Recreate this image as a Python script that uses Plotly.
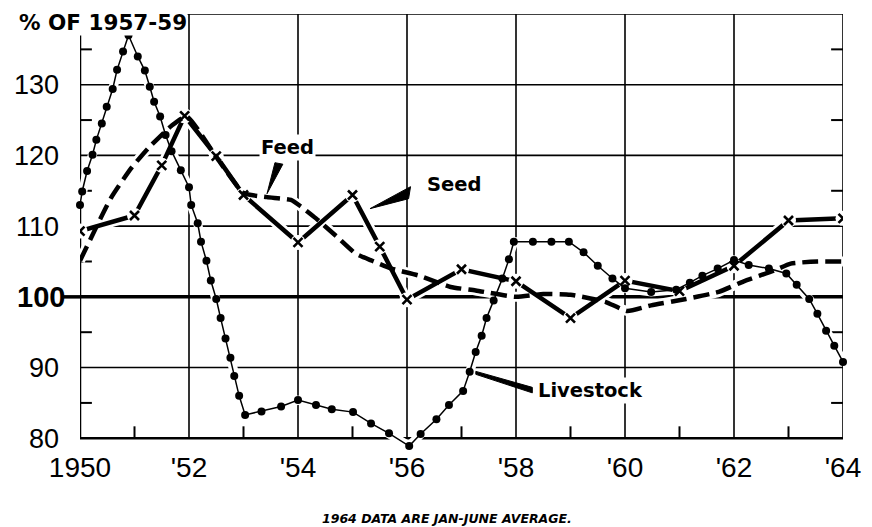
import plotly.graph_objects as go

# ---------------- data ----------------
live_year = [1950.0, 1950.04, 1950.13, 1950.23, 1950.30, 1950.40, 1950.49, 1950.60, 1950.68, 1950.79,
             1950.89, 1951.06, 1951.19, 1951.28, 1951.36, 1951.47, 1951.57, 1951.68, 1951.85, 1952.0,
             1952.04, 1952.16, 1952.22, 1952.32, 1952.40, 1952.50, 1952.58, 1952.67, 1952.76, 1952.83,
             1952.92, 1953.03, 1953.33, 1953.69, 1954.0, 1954.33, 1954.62, 1955.01, 1955.34, 1955.67,
             1956.04, 1956.25, 1956.54, 1956.77, 1957.03, 1957.15, 1957.26, 1957.37, 1957.46, 1957.59,
             1957.75, 1957.87, 1957.96, 1958.31, 1958.65, 1958.97, 1959.24, 1959.50, 1959.77, 1960.0,
             1960.48, 1960.94, 1961.19, 1961.42, 1961.70, 1962.0, 1962.27, 1962.64, 1962.96, 1963.15,
             1963.38, 1963.53, 1963.69, 1963.84, 1964.0]
live_val = [113.0, 114.9, 117.8, 120.1, 122.2, 124.5, 126.9, 129.4, 132.1, 134.7,
            137.0, 134.0, 132.0, 129.7, 127.6, 125.5, 122.9, 120.6, 117.9, 115.5,
            113.0, 110.4, 107.8, 105.1, 102.3, 99.7, 97.0, 94.1, 91.4, 88.8,
            86.0, 83.3, 83.8, 84.5, 85.4, 84.7, 84.1, 83.7, 82.1, 80.7,
            78.9, 80.6, 82.7, 84.7, 86.7, 89.4, 92.2, 94.5, 97.0, 99.5,
            102.6, 105.3, 107.8, 107.8, 107.8, 107.8, 106.3, 104.4, 102.6, 101.2,
            100.7, 101.0, 102.0, 103.0, 104.0, 105.2, 104.5, 104.0, 103.3, 101.7,
            99.7, 97.6, 95.2, 93.1, 90.8]

feed_year = [1950.0, 1950.57, 1950.94, 1951.25, 1951.68, 1951.96, 1952.5, 1953.0, 1953.43, 1953.87,
             1954.05, 1954.33, 1954.70, 1955.06, 1955.36, 1955.72, 1956.22, 1956.80, 1957.26, 1958.0,
             1958.5, 1959.0, 1959.64, 1960.04, 1960.48, 1961.12, 1961.72, 1962.18, 1962.73, 1963.04,
             1963.53, 1964.0]
feed_val = [105.1, 114.0, 118.2, 121.0, 124.2, 125.5, 119.8, 114.7, 114.1, 113.7,
            112.8, 111.1, 108.6, 106.1, 105.1, 104.0, 103.0, 101.4, 100.9, 100.0,
            100.4, 100.3, 99.3, 98.0, 98.8, 99.7, 100.7, 102.2, 103.7, 104.7,
            105.0, 105.0]

seed_year = [1950.0, 1951.0, 1951.5, 1951.92, 1952.5, 1953.0, 1954.0, 1955.0, 1955.5, 1956.0,
             1957.0, 1958.0, 1959.0, 1960.0, 1961.0, 1962.0, 1963.0, 1964.0]
seed_val = [109.3, 111.5, 118.6, 125.6, 119.9, 114.4, 107.7, 114.4, 107.1, 99.6,
            103.9, 102.2, 97.0, 102.3, 100.8, 104.4, 110.8, 111.1]

x_ticks = [1950, 1952, 1954, 1956, 1958, 1960, 1962, 1964]
x_labels = ["1950", "'52", "'54", "'56", "'58", "'60", "'62", "'64"]
x_minor = [1951, 1953, 1955, 1957, 1959, 1961, 1963]
y_ticks = [80, 90, 100, 110, 120, 130, 140]
y_labels = ["80", "90", "", "110", "120", "130", ""]
y_minor = [85, 95, 105, 115, 125, 135]

INK = "black"
TICKFONT = "Liberation Sans"
LABFONT = "DejaVu Sans"

X0, X1 = 1950, 1964
Y0, Y1 = 80, 140
Y_RANGE_LOW = 78.2           # room below the baseline for the 1956 dip
TICK_DX = 0.218              # ~12 px in years
TICK_DY = 1.69               # ~12 px in index points

fig = go.Figure()

# white halos (break the grid where the curves cross it)
fig.add_trace(go.Scatter(x=seed_year, y=seed_val, mode="lines",
                         line=dict(color="white", width=10), hoverinfo="skip", showlegend=False))
fig.add_trace(go.Scatter(x=feed_year, y=feed_val, mode="lines",
                         line=dict(color="white", width=10, shape="spline", smoothing=0.5),
                         hoverinfo="skip", showlegend=False))
fig.add_trace(go.Scatter(x=live_year, y=live_val, mode="lines",
                         line=dict(color="white", width=9), hoverinfo="skip", showlegend=False))

# Seed: heavy line broken around x markers
fig.add_trace(go.Scatter(x=seed_year, y=seed_val, mode="lines", name="Seed",
                         line=dict(color=INK, width=4.5), showlegend=False))
fig.add_trace(go.Scatter(x=seed_year, y=seed_val, mode="markers",
                         marker=dict(symbol="circle", size=15, color="white"),
                         hoverinfo="skip", showlegend=False))
fig.add_trace(go.Scatter(x=seed_year, y=seed_val, mode="markers",
                         marker=dict(symbol="x-thin", size=9, line=dict(color=INK, width=2.6)),
                         hoverinfo="skip", showlegend=False))

# Feed: dashed smooth
fig.add_trace(go.Scatter(x=feed_year, y=feed_val, mode="lines", name="Feed",
                         line=dict(color=INK, width=4.5, dash="16px,7px", shape="spline", smoothing=0.5),
                         showlegend=False))

# Livestock: dots on thin line
fig.add_trace(go.Scatter(x=live_year, y=live_val, mode="lines+markers", name="Livestock",
                         line=dict(color=INK, width=1.5),
                         marker=dict(symbol="circle", size=8, color=INK),
                         cliponaxis=False, showlegend=False))

shapes = []
# horizontal grid / frame
for yv in y_ticks:
    w = 3.5 if yv == 100 else (2.5 if yv == Y0 else 1.6)
    shapes.append(dict(type="line", xref="x", yref="y", x0=X0, x1=X1, y0=yv, y1=yv,
                       line=dict(color=INK, width=w), layer="below"))
# bold 100 line runs out to the label
shapes.append(dict(type="line", xref="paper", yref="y", x0=-0.022, x1=0, y0=100, y1=100,
                   line=dict(color=INK, width=3.5), layer="below"))
# vertical grid / frame
for xv in x_ticks:
    w = 2.5 if xv == X0 else 1.6
    shapes.append(dict(type="line", xref="x", yref="y", x0=xv, x1=xv, y0=Y0, y1=Y1,
                       line=dict(color=INK, width=w), layer="below"))
# minor ticks
for yv in y_minor:
    shapes.append(dict(type="line", xref="x", yref="y", x0=X0, x1=X0 + TICK_DX, y0=yv, y1=yv,
                       line=dict(color=INK, width=2), layer="below"))
    shapes.append(dict(type="line", xref="x", yref="y", x0=X1 - TICK_DX, x1=X1, y0=yv, y1=yv,
                       line=dict(color=INK, width=2), layer="below"))
for xv in x_minor:
    shapes.append(dict(type="line", xref="x", yref="y", x0=xv, x1=xv, y0=Y0, y1=Y0 + TICK_DY,
                       line=dict(color=INK, width=2), layer="below"))

# pointer wedges
shapes += [
    dict(type="path", xref="x", yref="y",
         path="M 1953.577 118.97 L 1953.722 118.76 L 1953.432 114.59 Z",
         fillcolor=INK, line=dict(color=INK, width=1)),
    dict(type="path", xref="x", yref="y",
         path="M 1956.065 115.58 L 1956.029 113.88 L 1955.321 112.47 Z",
         fillcolor=INK, line=dict(color=INK, width=1)),
    dict(type="path", xref="x", yref="y",
         path="M 1957.263 89.46 L 1957.263 89.04 L 1958.299 86.42 L 1958.299 87.20 Z",
         fillcolor=INK, line=dict(color=INK, width=1)),
]

annotations = [
    dict(text="<b>% OF 1957-59</b>", xref="paper", yref="paper", x=-0.0817, y=1.011,
         xanchor="left", yanchor="top", showarrow=False, bgcolor="white", borderpad=0,
         font=dict(family=LABFONT, size=21.5, color=INK)),
    dict(text="<b>100</b>", xref="paper", yref="y", x=0, y=100, xanchor="right", yanchor="middle",
         xshift=-13, showarrow=False, font=dict(family=TICKFONT, size=29, color=INK)),
    dict(text="<b>Feed</b>", xref="x", yref="y", x=1953.813, y=121.08, showarrow=False,
         bgcolor="white", font=dict(family=LABFONT, size=19.5, color=INK)),
    dict(text="<b>Seed</b>", xref="x", yref="y", x=1956.855, y=115.86, showarrow=False,
         bgcolor="white", font=dict(family=LABFONT, size=19.5, color=INK)),
    dict(text="<b>Livestock</b>", xref="x", yref="y", x=1959.37, y=86.78, showarrow=False,
         bgcolor="white", font=dict(family=LABFONT, size=19.5, color=INK)),
    dict(text="<b><i>1964 DATA ARE JAN-JUNE AVERAGE.</i></b>", xref="paper", yref="paper",
         x=0.481, y=-0.154, xanchor="center", yanchor="middle", showarrow=False,
         font=dict(family=LABFONT, size=12.5, color=INK)),
]

# the page body has an 8 px default margin, so the figure is sized to fit the window
fig.update_layout(
    width=864, height=519,
    margin=dict(l=64, r=29, t=6, b=76),
    paper_bgcolor="white", plot_bgcolor="white",
    showlegend=False,
    shapes=shapes, annotations=annotations,
    xaxis=dict(range=[X0, X1], tickvals=x_ticks, ticktext=x_labels,
               showgrid=False, zeroline=False, showline=False,
               ticks="", tickfont=dict(family=TICKFONT, size=28, color=INK),
               ticklabelstandoff=-3),
    yaxis=dict(range=[Y_RANGE_LOW, Y1], tickvals=y_ticks, ticktext=y_labels,
               showgrid=False, zeroline=False, showline=False,
               ticks="", tickfont=dict(family=TICKFONT, size=27, color=INK),
               ticklabelstandoff=20),
)

fig.write_html("out.html")
